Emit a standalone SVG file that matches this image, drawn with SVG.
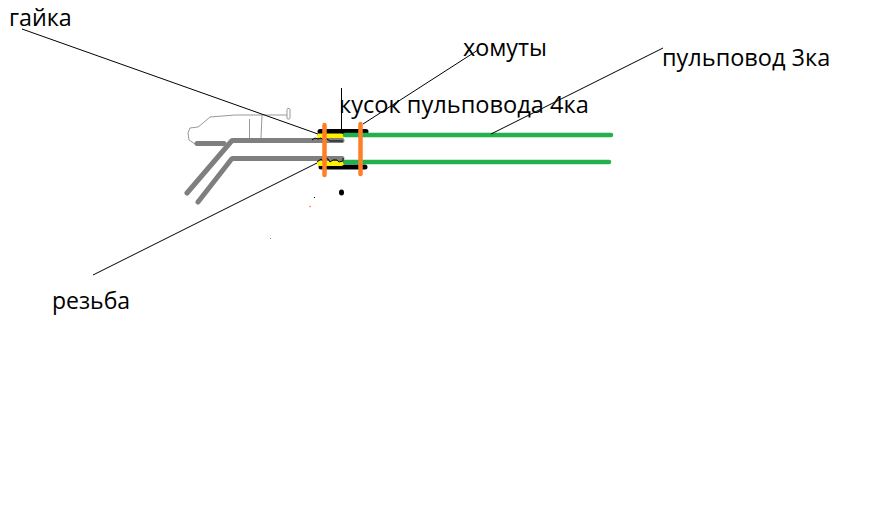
<svg xmlns="http://www.w3.org/2000/svg" width="894" height="521" viewBox="0 0 894 521">
<style>
.t{font-family:"Open Sans","DejaVu Sans",sans-serif;font-size:23.3px;fill:#000}
.l{fill:none;stroke:#000;stroke-width:1}
.gr{fill:none;stroke:#7f7f7f;stroke-width:5;stroke-linecap:round;stroke-linejoin:bevel}
.sk{fill:none;stroke:#999;stroke-width:1}
.gn{fill:none;stroke:#22b14c;stroke-width:4.5;stroke-linecap:round}
.bk{fill:none;stroke:#000;stroke-width:5;stroke-linecap:round}
.ye{fill:none;stroke:#fff200;stroke-width:6;stroke-linecap:round}
.or{fill:none;stroke:#ff7f27;stroke-width:4.5;stroke-linecap:round}
</style>
<rect width="894" height="521" fill="#fff"/>
<g id="sketch">
<path class="sk" d="M210 117L235 115H287M210 117L203 123L198 127L190 128L188 133L189 140L195 144"/>
<rect class="sk" x="287" y="108.500" width="3" height="10.500" rx="1"/>
<path class="sk" d="M249.500 119V138M262 115L261 138"/>
<path class="gr" d="M197 143.500H224"/>
</g>
<g id="hose-4ka">
<path class="bk" d="M320 131.500H366M321 167H365"/>
<path class="ye" d="M320 136.500H341M320 163H341"/>
</g>
<g id="hose-3ka">
<path class="gn" d="M345 135H611M345 162H609"/>
</g>
<g id="torch">
<path class="gr" d="M187 193L232 140.500H342M198 202L232 158.500H342"/>
</g>
<g id="threads">
<path fill="none" stroke="#000" d="M312 140L315 138L318 139L321 138L323 140L327 139L330 141H343"/>
<path fill="none" stroke="#000" d="M317 162L321 159L323 161L325 158L328 159L330 162L333 160L337 160L339 162L343 161V158"/>
</g>
<g id="clamps">
<path class="or" d="M324.500 125V175M360.500 124V174"/>
<ellipse cx="341.500" cy="192.500" rx="2.500" ry="3" fill="#000"/>
<rect x="314" y="197" width="1" height="1" fill="#000"/>
<path d="M309 207L311 206" stroke="#ff7f27" stroke-width="1" fill="none"/>
<rect x="270" y="238" width="1" height="1" fill="#7f7f7f"/>
</g>
<g id="connectors">
<path class="l" d="M22 29L318 134"/>
<path class="l" d="M93 275L317 163"/>
<path class="l" d="M363 124L478 50"/>
<path class="l" d="M491 134L663 48"/>
<path class="l" d="M341.500 88V129"/>
</g>
<g id="labels">
<text class="t" x="9" y="26">гайка</text>
<text class="t" x="463" y="56">хомуты</text>
<text class="t" x="662" y="66" style="font-size:23.5px">пульповод 3ка</text>
<text class="t" x="339" y="113" style="font-size:23.6px">кусок пульповода 4ка</text>
<text class="t" x="52" y="309" style="font-size:23px">резьба</text>
</g>
</svg>
